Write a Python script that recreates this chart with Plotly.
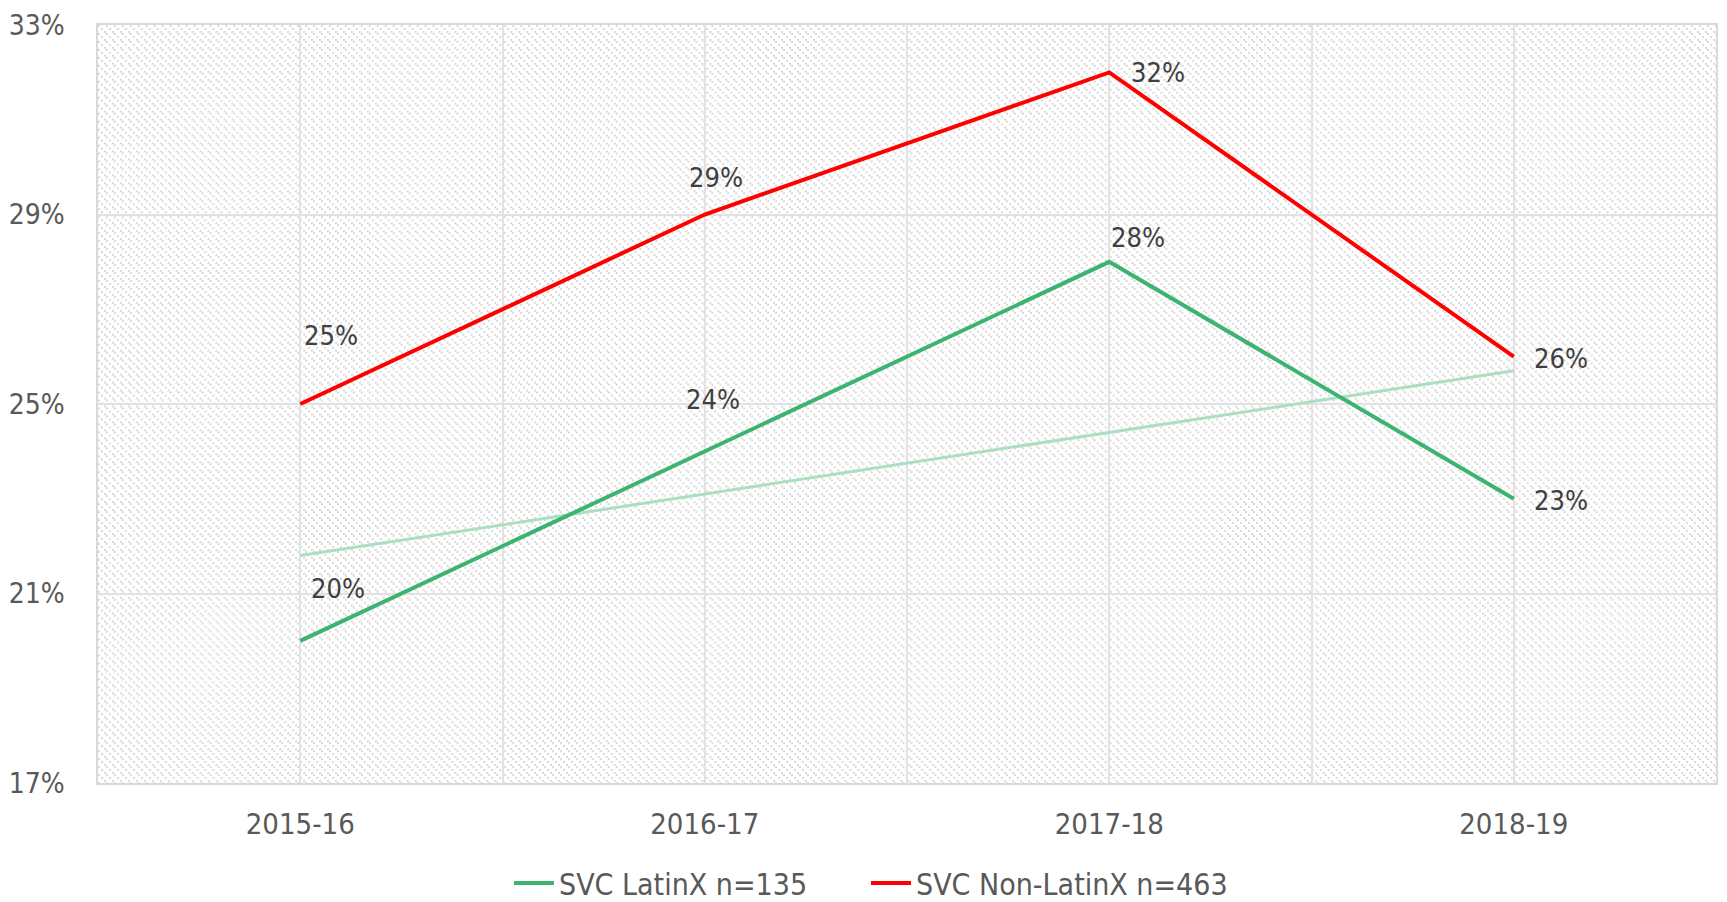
import base64
import plotly.graph_objects as go

# ---- data ----
years = ["2015-16", "2016-17", "2017-18", "2018-19"]
latinx = [20, 24, 28, 23]
non_latinx = [25, 29, 32, 26]
latinx_trend_ends = [21.8, 25.7]          # linear trendline at first / last year
series_names = ["SVC LatinX n=135", "SVC Non-LatinX n=463"]
y_ticks = [17, 21, 25, 29, 33]

# ---- styling / label offsets (px: right, up) ----
green = "#3cb371"
red = "#ff0000"
trend_color = "#aadfc1"
grid_color = "#e2e2e2"
tick_font = "DejaVu Sans Condensed, DejaVu Sans, sans-serif"
latinx_label_shift = [(38, 52), (8, 52), (29, 24), (47, -2)]
non_latinx_label_shift = [(31, 69), (11, 37), (49, 0), (47, -2)]
legend_x = [509 / 1727, 866 / 1727]

W, H = 1727, 902
margin = dict(l=93, r=9, t=22, b=119)
pw, ph = W - margin["l"] - margin["r"], H - margin["t"] - margin["b"]

svg = (
    f'<svg xmlns="http://www.w3.org/2000/svg" width="{pw}" height="{ph}" shape-rendering="crispEdges">'
    '<defs><pattern id="p" width="8" height="8" patternUnits="userSpaceOnUse">'
    '<rect x="0" y="0" width="2" height="2" fill="#d9d9d9"/>'
    '<rect x="3" y="3" width="2" height="2" fill="#d9d9d9"/>'
    '<rect x="6" y="6" width="2" height="2" fill="#d9d9d9"/>'
    '</pattern></defs><rect width="100%" height="100%" fill="url(#p)"/></svg>'
)
pattern_src = "data:image/svg+xml;base64," + base64.b64encode(svg.encode()).decode()

x_idx = list(range(len(years)))

fig = go.Figure()
fig.add_trace(go.Scatter(
    x=[x_idx[0], x_idx[-1]], y=latinx_trend_ends, mode="lines",
    line=dict(color=trend_color, width=3), showlegend=False, hoverinfo="skip"))
fig.add_trace(go.Scatter(
    x=x_idx, y=latinx, mode="lines", name=series_names[0], legend="legend",
    line=dict(color=green, width=4)))
fig.add_trace(go.Scatter(
    x=x_idx, y=non_latinx, mode="lines", name=series_names[1], legend="legend2",
    line=dict(color=red, width=4)))

annotations = []
for vals, shifts in ((latinx, latinx_label_shift), (non_latinx, non_latinx_label_shift)):
    for i, (v, (dx, dy)) in enumerate(zip(vals, shifts)):
        annotations.append(dict(
            x=x_idx[i], y=v, xref="x", yref="y", text=f"{v}%", showarrow=False,
            xshift=dx, yshift=dy, font=dict(family=tick_font, size=27, color="#404040")))

legend_common = dict(orientation="h", xref="container", yref="container",
                     xanchor="left", y=0.021, yanchor="middle", itemwidth=40,
                     font=dict(size=30, color="#595959"), bgcolor="rgba(0,0,0,0)")

fig.update_layout(
    width=W, height=H, margin=margin,
    paper_bgcolor="white", plot_bgcolor="white",
    font=dict(family=tick_font, color="#595959"),
    images=[dict(source=pattern_src, xref="x domain", yref="y domain", x=0, y=1,
                 sizex=1, sizey=1, sizing="stretch", xanchor="left", yanchor="top",
                 layer="below")],
    annotations=annotations,
    legend=dict(x=legend_x[0], **legend_common),
    legend2=dict(x=legend_x[1], **legend_common),
    showlegend=True,
)
fig.update_xaxes(
    range=[-0.5, len(years) - 0.5], tickmode="array", tickvals=x_idx, ticktext=years,
    showgrid=True, gridcolor=grid_color, gridwidth=1.5,
    minor=dict(tickmode="array", tickvals=[i + 0.5 for i in x_idx[:-1]],
               showgrid=True, gridcolor=grid_color, gridwidth=1.5),
    showline=True, linecolor="#d9d9d9", linewidth=2, mirror=True,
    ticks="outside", ticklen=0, ticklabelstandoff=14,
    tickfont=dict(size=29, color="#595959"), zeroline=False)
fig.update_yaxes(
    range=[y_ticks[0], y_ticks[-1]], tickmode="array", tickvals=y_ticks,
    ticktext=[f"{t}%" for t in y_ticks],
    showgrid=True, gridcolor=grid_color, gridwidth=1.5,
    showline=True, linecolor="#d9d9d9", linewidth=1.5, mirror=True,
    ticks="outside", ticklen=0, ticklabelstandoff=26,
    tickfont=dict(size=28, color="#595959"), zeroline=False)

fig.write_html("out.html", config={"displayModeBar": False},
               post_script="document.body.style.margin='0';")
